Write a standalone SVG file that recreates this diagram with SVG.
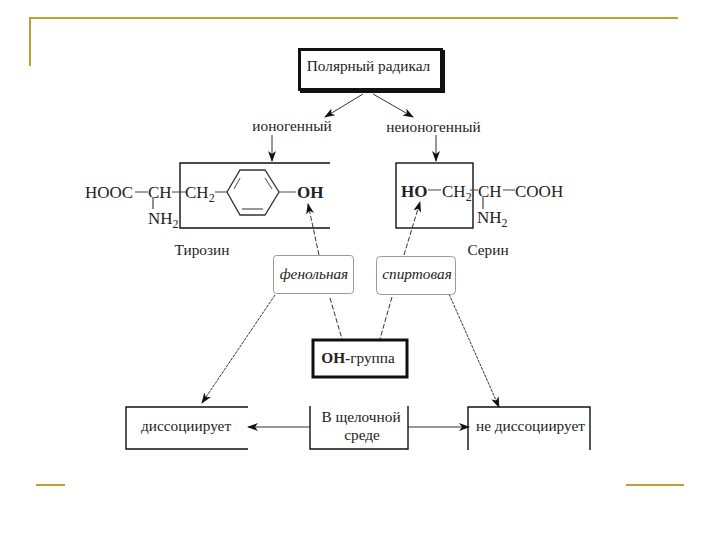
<svg xmlns="http://www.w3.org/2000/svg" width="720" height="540" viewBox="0 0 720 540">
<style>
text{font-family:"Liberation Serif","Times New Roman",serif;fill:#222;font-size:15.300px}
.m{text-anchor:middle}
.l{fill:none;stroke:#444;stroke-width:1.200}
.b{fill:none;stroke:#111;stroke-width:1.400}
.a{fill:none;stroke:#333;stroke-width:1;marker-end:url(#ah)}
.n{fill:none;stroke:#333;stroke-width:1}
.d{stroke-dasharray:5 2}
.f{stroke-dasharray:3 1}
.g{fill:none;stroke:#bda12f;stroke-width:2}
.r{fill:#fff;stroke:#999;stroke-width:1}
.i{font-style:italic}
.c{font-size:17px}
.s{font-size:12px}
</style>
<defs>
<marker id="ah" markerWidth="11" markerHeight="8" refX="10" refY="4" orient="auto" markerUnits="userSpaceOnUse"><path d="M0 0L11 4L0 8L3 4Z" fill="#111"/></marker>
</defs>
<rect width="720" height="540" fill="#fff"/>
<g id="frame">
<path class="g" d="M30 66V18H678"/>
<path class="g" d="M36 485H65M626 485H684"/>
</g>
<g id="connectors">
<path class="a" d="M363 94L325 117"/>
<path class="a" d="M373 94L413 117"/>
<path class="a" d="M272 135V161"/>
<path class="a" d="M436 135V161"/>
<path class="a d" d="M319 255L308 204"/>
<path class="a d" d="M404 255L420 202"/>
<path class="n d" d="M330 298L342 339"/>
<path class="n d" d="M392 297L380 339"/>
<path class="a f" d="M275 295L202 403"/>
<path class="a f" d="M449 294L499 407"/>
<path class="a" d="M310 427H248"/>
<path class="a" d="M408 427H469"/>
</g>
<g id="polar"><path d="M300 50H445V93H300Z" fill="#111"/><rect x="299.500" y="49.500" width="142" height="40" fill="#fff" stroke="#111" stroke-width="3"/><text x="368.500" y="71" class="m">Полярный радикал</text></g>
<g id="ionic"><text x="292" y="131" class="m">ионогенный</text></g>
<g id="nonionic"><text x="433.500" y="132" class="m">неионогенный</text></g>
<g id="tyrosine">
<path class="b" d="M330 163H180V228H330"/>
<path class="l" d="M135 192H148M172 192H186M215 192H227"/>
<path class="l" d="M153 198V209"/>
<path d="M227 192L240 170H265L279 192L265 215H240Z" fill="none" stroke="#333" stroke-width="1.300"/>
<path d="M240 178L234 189M265 178L272 189M242 209H263" fill="none" stroke="#777" stroke-width="1.300"/>
<path d="M279 192H296" stroke="#777" stroke-width="1.300"/>
<text x="85" y="198" class="c">HOOC</text>
<text x="148" y="198" class="c">CH</text>
<text x="185" y="198" class="c">CH<tspan class="s" dy="4">2</tspan></text>
<text x="297" y="198" class="c" font-weight="bold">OH</text>
<text x="148" y="224" class="c">NH<tspan class="s" dy="4">2</tspan></text>
<text x="202" y="255" class="m">Тирозин</text>
</g>
<g id="serine">
<rect class="b" x="396" y="163" width="77" height="65"/>
<path class="l" d="M428 190H441M470 190H478M503 190H515"/>
<path class="l" d="M483 197V209"/>
<text x="401" y="197" class="c" font-weight="bold">HO</text>
<text x="442" y="197" class="c">CH<tspan class="s" dy="4">2</tspan></text>
<text x="478" y="197" class="c">CH</text>
<text x="515" y="197" class="c">COOH</text>
<text x="477" y="223" class="c">NH<tspan class="s" dy="4">2</tspan></text>
<text x="488" y="255" class="m">Серин</text>
</g>
<g id="phenol"><rect class="r" x="273.500" y="255.500" width="80" height="38" rx="3"/><text x="314" y="279" class="m i">фенольная</text></g>
<g id="alcohol"><rect class="r" x="376.500" y="256.500" width="79" height="38" rx="4"/><text x="417" y="279" class="m i">спиртовая</text></g>
<g id="ohgroup"><rect x="313" y="340" width="94" height="37" fill="#fff" stroke="#111" stroke-width="3"/><text x="358" y="363" class="m"><tspan font-weight="bold">ОН-</tspan>группа</text></g>
<g id="diss"><path class="b" d="M248 407H126V449H248"/><text x="186" y="431" class="m">диссоциирует</text></g>
<g id="alkaline"><path class="b" d="M310 406V449H408V406"/><text x="361" y="422" class="m">В щелочной</text><text x="362" y="440" class="m">среде</text></g>
<g id="nondiss"><path class="b" d="M468 450V407H590V450"/><text x="530.500" y="431" class="m">не диссоциирует</text></g>
</svg>
